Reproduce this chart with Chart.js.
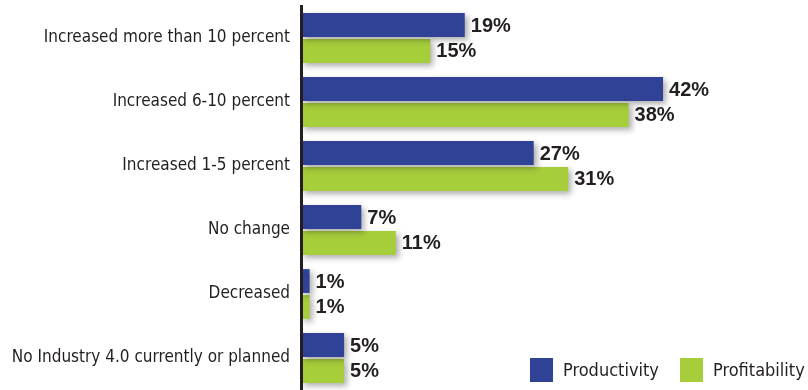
<!DOCTYPE html>
<html>
<head>
<meta charset="utf-8">
<script src="https://cdn.jsdelivr.net/npm/chart.js@4"></script>
<style>
  html, body { margin: 0; padding: 0; background: #fff; }
  #wrap { width: 808px; height: 390px; }
</style>
</head>
<body>
<div id="wrap"><canvas id="impactChart" width="808" height="390"></canvas></div>
<script>
const categories = ['Increased more than 10 percent', 'Increased 6-10 percent', 'Increased 1-5 percent',
    'No change', 'Decreased', 'No Industry 4.0 currently or planned'];
const productivity = [19, 42, 27, 7, 1, 5];
const profitability = [15, 38, 31, 11, 1, 5];
const seriesNames = ['Productivity', 'Profitability'];

const darkText = '#231f20';
const narrowFont = "'Liberation Sans Narrow', 'DejaVu Sans Condensed', 'Arial Narrow', sans-serif";

// soft drop shadow under the bars
const barShadow = {
    id: 'barShadow',
    beforeDatasetsDraw(chart) {
        const c = chart.ctx;
        c.save();
        c.shadowColor = 'rgba(0, 0, 0, 0.32)';
        c.shadowBlur = 6;
        c.shadowOffsetX = 3;
        c.shadowOffsetY = 3;
    },
    afterDatasetsDraw(chart) {
        chart.ctx.restore();
    }
};

// percentage next to each bar
const valueLabels = {
    id: 'valueLabels',
    afterDatasetsDraw(chart) {
        const c = chart.ctx;
        c.save();
        c.font = 'bold 20px "Liberation Sans", Arial, sans-serif';
        c.fillStyle = darkText;
        c.textBaseline = 'middle';
        c.textAlign = 'left';
        chart.data.datasets.forEach((ds, i) => {
            chart.getDatasetMeta(i).data.forEach((bar, j) => {
                c.fillText(ds.data[j] + '%', bar.x + 6, bar.y + 1);
            });
        });
        c.restore();
    }
};

// legend in the bottom right corner
const cornerLegend = {
    id: 'cornerLegend',
    afterDraw(chart) {
        const c = chart.ctx;
        c.save();
        c.font = '18px ' + narrowFont;
        c.textBaseline = 'middle';
        let x = 530;
        const y = 370;
        chart.data.datasets.forEach(ds => {
            c.fillStyle = ds.backgroundColor;
            c.fillRect(x, y - 12, 23, 24);
            c.fillStyle = darkText;
            c.fillText(ds.label, x + 33, y + 1);
            x += 150;
        });
        c.restore();
    }
};

const ctx = document.getElementById('impactChart').getContext('2d');
const impactChart = new Chart(ctx, {
    type: 'bar',
    data: {
        labels: categories,
        datasets: [{
            label: seriesNames[0],
            data: productivity,
            backgroundColor: '#2f4296',
            categoryPercentage: 0.81,
            barPercentage: 0.92
        }, {
            label: seriesNames[1],
            data: profitability,
            backgroundColor: '#a6cd3a',
            categoryPercentage: 0.81,
            barPercentage: 0.92
        }]
    },
    options: {
        indexAxis: 'y',
        responsive: false,
        animation: false,
        layout: { padding: { top: 6, right: 76, bottom: 0, left: 0 } },
        plugins: {
            legend: { display: false },
            tooltip: { enabled: false }
        },
        scales: {
            x: {
                display: false,
                min: 0,
                max: 50
            },
            y: {
                afterFit(scale) {
                    scale.width = 301;
                    // labels sit inside the bands, no extra room needed above/below
                    scale.paddingTop = 0;
                    scale.paddingBottom = 0;
                },
                grid: { display: false },
                border: { display: true, color: darkText, width: 3, z: 1 },
                ticks: {
                    color: darkText,
                    padding: 3,
                    font: { family: narrowFont, size: 17 }
                }
            }
        }
    },
    plugins: [barShadow, valueLabels, cornerLegend]
});
</script>
</body>
</html>
